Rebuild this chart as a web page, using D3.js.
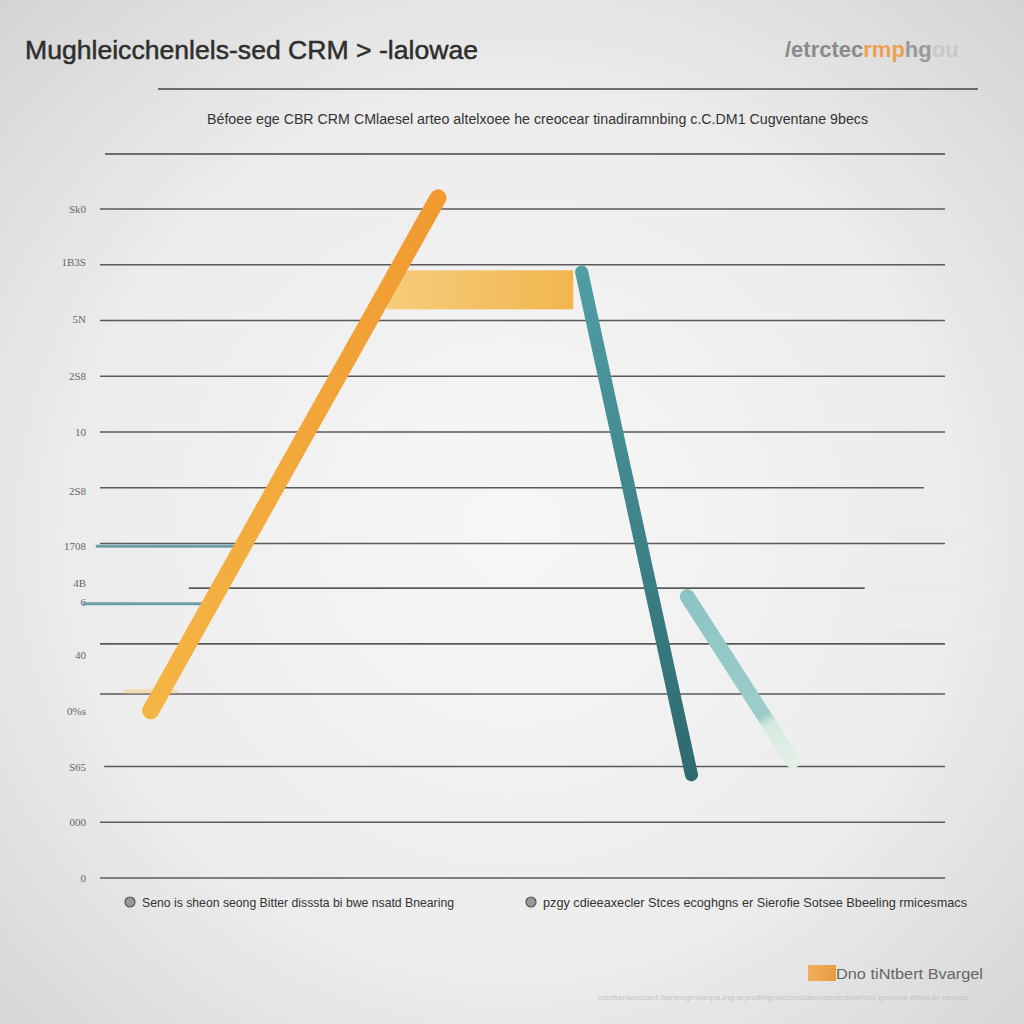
<!DOCTYPE html>
<html><head><meta charset="utf-8">
<script src="https://cdn.jsdelivr.net/npm/d3@7"></script>
<style>html,body{margin:0;padding:0;background:#e4e4e4;}svg{display:block;}</style>
</head><body>
<svg id="c" width="1024" height="1024"></svg>
<script>
// ---- data ----
const gridValues = [0, 10, 20, 33, 42, 52, 60, 70, 80, 90, 100, 110, 120];
const tickLabels = ["0", "000", "S65", "0%s", "40", "6", "4B", "1708", "2S8", "10", "2S8", "5N", "1B3S", "Sk0"];
const tickLabelValues = [0, 10, 20, 30, 40, 49.5, 53, 59.5, 69.5, 80, 90, 100.2, 110.5, 120];
const orangeLine = [{x: 0.6, v: 30}, {x: 4.0, v: 122}];
const yellowBar = {x0: 3.4, x1: 5.6, v0: 102, v1: 109};
const tealLine = [{x: 5.7, v: 108.7}, {x: 7.0, v: 18.5}];
const lightTealLine = [{x: 6.95, v: 50.5}, {x: 8.2, v: 21}];
const shortTeal = [{x0: -0.05, x1: 1.6, v: 59.5}, {x0: -0.2, x1: 1.25, v: 49.2}];
const titleText = "Mughleicchenlels-sed CRM > -lalowae";
const subtitleText = "Béfoee ege CBR CRM CMlaesel arteo altelxoee he creocear tinadiramnbing c.C.DM1 Cugventane 9becs";
const legendItems = ["Seno is sheon seong Bitter disssta bi bwe nsatd Bnearing", "pzgy cdieeaxecler Stces ecoghgns er Sierofie Sotsee Bbeeling rmicesmacs"];
const noteText = "Dno tiNtbert Bvargel";
const sourceText = "otedtenweocert.beriengmiwnpa.ing.tepndlingnoctsosdtenracoectvatAtst genmre etion.er cecros";

const svg = d3.select("#c");
const defs = svg.append("defs");
const bg = defs.append("radialGradient").attr("id","bg").attr("cx","50%").attr("cy","52%").attr("r","72%");
bg.append("stop").attr("offset","0%").attr("stop-color","#f7f7f7");
bg.append("stop").attr("offset","60%").attr("stop-color","#ececec");
bg.append("stop").attr("offset","100%").attr("stop-color","#d4d4d4");
svg.append("rect").attr("width",1024).attr("height",1024).attr("fill","url(#bg)");

const y = d3.scaleLinear().domain([0,120]).range([878,209]);
const x = d3.scaleLinear().domain([0,10]).range([100,945]);

// title
svg.append("text").attr("x",25).attr("y",59).attr("font-family","Liberation Sans, Arial, sans-serif")
  .attr("font-size",26).attr("fill","#2e2e2e").attr("stroke","#2e2e2e").attr("stroke-width",0.5)
  .attr("textLength",453).attr("lengthAdjust","spacingAndGlyphs")
  .text(titleText);
const tr = svg.append("text").attr("x",785).attr("y",57).attr("font-family","Liberation Sans, Arial, sans-serif")
  .attr("font-size",22).attr("font-weight","bold");
tr.append("tspan").attr("fill","#8a8a8a").text("/etrctec");
tr.append("tspan").attr("fill","#eea050").text("rmp");
tr.append("tspan").attr("fill","#999").text("hg");
tr.append("tspan").attr("fill","#c8c8c8").text("ou");

svg.append("line").attr("x1",158).attr("x2",978).attr("y1",89).attr("y2",89).attr("stroke","#444").attr("stroke-width",1.5);
svg.append("text").attr("x",207).attr("y",124).attr("font-family","Liberation Sans, Arial, sans-serif")
  .attr("font-size",14).attr("fill","#333").attr("textLength",661).attr("lengthAdjust","spacingAndGlyphs")
  .text(subtitleText);
svg.append("line").attr("x1",105).attr("x2",945).attr("y1",154).attr("y2",154).attr("stroke","#444").attr("stroke-width",1.5);

// gridlines
const gridEnd = {70: 9.75, 52: 9.05};
const gridStart = {52: 1.05, 20: 0.05};
svg.append("g").selectAll("line").data(gridValues).join("line")
  .attr("x1", d => x(gridStart[d] !== undefined ? gridStart[d] : 0))
  .attr("x2", d => x(gridEnd[d] !== undefined ? gridEnd[d] : 10))
  .attr("y1", d => y(d)).attr("y2", d => y(d))
  .attr("stroke","#5a5a5a").attr("stroke-width",1.6);

// faint right stubs
const stubs = [61.5, 52, 43.5];
svg.append("g").selectAll("line").data(stubs).join("line")
  .attr("x1", x(9.4)).attr("x2", x(10.5)).attr("y1", d => y(d)).attr("y2", d => y(d))
  .attr("stroke","#e9ecea").attr("stroke-width",10).attr("stroke-linecap","round").attr("opacity",0.9);

// tick labels
svg.append("g").selectAll("text").data(tickLabels).join("text")
  .attr("x", 86).attr("y", (d,i) => y(tickLabelValues[i]) + 4)
  .attr("text-anchor","end").attr("font-family","Liberation Serif, serif").attr("font-size",11)
  .attr("fill","#666").text(d => d);

// short teal lines
svg.append("g").selectAll("line").data(shortTeal).join("line")
  .attr("x1", d => x(d.x0)).attr("x2", d => x(d.x1)).attr("y1", d => y(d.v)).attr("y2", d => y(d.v))
  .attr("stroke","#6f9ea6").attr("stroke-width",3);

// faded orange stubs
svg.append("line").attr("x1",x(0.3)).attr("x2",x(0.9)).attr("y1",y(33.5)).attr("y2",y(33.5))
  .attr("stroke","#f3d9b4").attr("stroke-width",4).attr("stroke-linecap","round");

// yellow bar
const yg = defs.append("linearGradient").attr("id","yg");
yg.append("stop").attr("offset","0%").attr("stop-color","#f6cc7c");
yg.append("stop").attr("offset","100%").attr("stop-color","#f1b64e");
svg.append("rect").attr("x",x(yellowBar.x0)).attr("width",x(yellowBar.x1)-x(yellowBar.x0))
  .attr("y",y(yellowBar.v1)).attr("height",y(yellowBar.v0)-y(yellowBar.v1)).attr("fill","url(#yg)");

// orange line
const og = defs.append("linearGradient").attr("id","og").attr("gradientUnits","userSpaceOnUse")
  .attr("x1",x(orangeLine[0].x)).attr("y1",y(orangeLine[0].v)).attr("x2",x(orangeLine[1].x)).attr("y2",y(orangeLine[1].v));
og.append("stop").attr("offset","0%").attr("stop-color","#f5b545");
og.append("stop").attr("offset","100%").attr("stop-color","#f09a30");
svg.append("line").attr("x1",x(orangeLine[0].x)).attr("y1",y(orangeLine[0].v))
  .attr("x2",x(orangeLine[1].x)).attr("y2",y(orangeLine[1].v))
  .attr("stroke","url(#og)").attr("stroke-width",17).attr("stroke-linecap","round");

// teal line
const tg = defs.append("linearGradient").attr("id","tg").attr("gradientUnits","userSpaceOnUse")
  .attr("x1",x(tealLine[0].x)).attr("y1",y(tealLine[0].v)).attr("x2",x(tealLine[1].x)).attr("y2",y(tealLine[1].v));
tg.append("stop").attr("offset","0%").attr("stop-color","#4f9ea4");
tg.append("stop").attr("offset","100%").attr("stop-color","#2e6a70");
svg.append("line").attr("x1",x(tealLine[0].x)).attr("y1",y(tealLine[0].v))
  .attr("x2",x(tealLine[1].x)).attr("y2",y(tealLine[1].v))
  .attr("stroke","url(#tg)").attr("stroke-width",13).attr("stroke-linecap","round");

// light teal line
const lg = defs.append("linearGradient").attr("id","lg").attr("gradientUnits","userSpaceOnUse")
  .attr("x1",x(lightTealLine[0].x)).attr("y1",y(lightTealLine[0].v)).attr("x2",x(lightTealLine[1].x)).attr("y2",y(lightTealLine[1].v));
lg.append("stop").attr("offset","0%").attr("stop-color","#8cc4c4");
lg.append("stop").attr("offset","72%").attr("stop-color","#9ccdca");
lg.append("stop").attr("offset","78%").attr("stop-color","#d5eae0");
lg.append("stop").attr("offset","100%").attr("stop-color","#e2f0e6");
svg.append("line").attr("x1",x(lightTealLine[0].x)).attr("y1",y(lightTealLine[0].v))
  .attr("x2",x(lightTealLine[1].x)).attr("y2",y(lightTealLine[1].v))
  .attr("stroke","url(#lg)").attr("stroke-width",15).attr("stroke-linecap","round");

// legend items
const lgX = [130, 531];
legendItems.forEach((t,i) => {
  svg.append("circle").attr("cx",lgX[i]).attr("cy",902).attr("r",5).attr("fill","#999").attr("stroke","#555").attr("stroke-width",1.2);
  svg.append("text").attr("x",lgX[i]+12).attr("y",907).attr("font-family","Liberation Sans, Arial, sans-serif")
    .attr("font-size",13).attr("fill","#333")
    .attr("textLength", i===0 ? 312 : 424).attr("lengthAdjust","spacingAndGlyphs").text(t);
});

// note
const ng = defs.append("linearGradient").attr("id","ng");
ng.append("stop").attr("offset","0%").attr("stop-color","#f0b060");
ng.append("stop").attr("offset","100%").attr("stop-color","#e89a40");
svg.append("rect").attr("x",808).attr("y",965).attr("width",28).attr("height",16).attr("fill","url(#ng)");
svg.append("text").attr("x",836).attr("y",979).attr("font-family","Liberation Sans, Arial, sans-serif")
  .attr("font-size",14).attr("fill","#666").attr("textLength",147).attr("lengthAdjust","spacingAndGlyphs").text(noteText);
svg.append("text").attr("x",598).attr("y",1000).attr("font-family","Liberation Sans, Arial, sans-serif")
  .attr("font-size",8).attr("fill","#c4c4c4").attr("textLength",370).attr("lengthAdjust","spacingAndGlyphs").text(sourceText);
</script>
</body></html>
